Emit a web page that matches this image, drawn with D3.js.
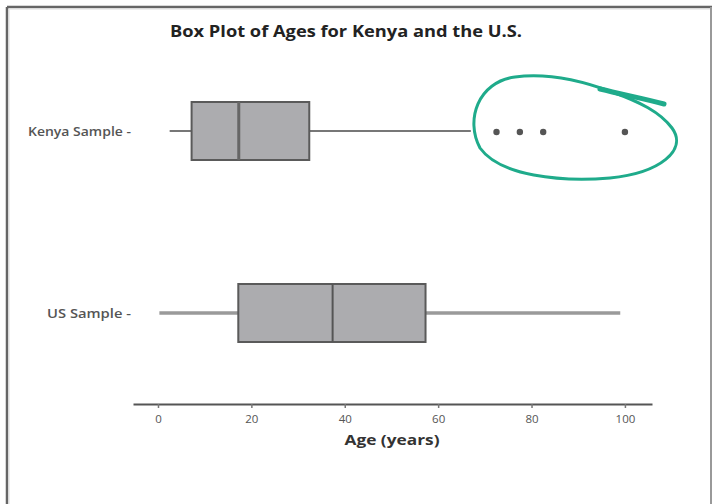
<!DOCTYPE html>
<html>
<head>
<meta charset="utf-8">
<script src="https://cdn.jsdelivr.net/npm/d3@7"></script>
<style>
  body { margin: 0; background: #fff; }
  text { font-family: "Open Sans", "DejaVu Sans", sans-serif; }
</style>
</head>
<body>
<div id="chart"></div>
<script>
// box plot summary
const groups = ["Kenya Sample", "US Sample"];
const whiskerLow = [2.5, 0.3];
const q1 = [7.2, 17.2];
const median = [17.3, 37.4];
const q3 = [32.4, 57.3];
const whiskerHigh = [67, 99];
const kenyaOutliers = [72.5, 77.5, 82.5, 100];
const xTicks = [0, 20, 40, 60, 80, 100];

const width = 713, height = 504;

let svg = d3.select('#chart')
    .append('svg')
    .attr('width', width)
    .attr('height', height);

// frame round the screenshot
svg.append('line').attr('x1', 7).attr('y1', 7).attr('x2', 7).attr('y2', height)
    .attr('stroke', '#666').attr('stroke-width', 2.5);
svg.append('line').attr('x1', 7).attr('y1', 7).attr('x2', 712).attr('y2', 7)
    .attr('stroke', '#666').attr('stroke-width', 2.5);
svg.append('line').attr('x1', 9).attr('y1', 9).attr('x2', 9).attr('y2', height)
    .attr('stroke', '#ddd').attr('stroke-width', 1);
svg.append('line').attr('x1', 9).attr('y1', 9).attr('x2', 711).attr('y2', 9)
    .attr('stroke', '#ddd').attr('stroke-width', 1);
svg.append('line').attr('x1', 711).attr('y1', 7).attr('x2', 711).attr('y2', height)
    .attr('stroke', '#999').attr('stroke-width', 2);

// x axis spans a bit past 0 and 100
var x = d3.scaleLinear()
    .domain([-5.35, 105.8])
    .range([133, 652]);

var y = d3.scalePoint()
    .domain(groups)
    .range([131, 313]);

const boxH = 60;

// title
svg.append('text')
    .attr('x', 346).attr('y', 37)
    .attr('text-anchor', 'middle')
    .attr('font-size', 16).attr('font-weight', 'bold')
    .attr('fill', '#222')
    .attr('textLength', 352)
    .attr('lengthAdjust', 'spacingAndGlyphs')
    .text('Box Plot of Ages for Kenya and the U.S.');

// x axis
let xAxis = svg.append('g')
    .attr('transform', 'translate(0,404)')
    .call(d3.axisBottom(x).tickValues(xTicks).tickSize(4).tickSizeOuter(0));
xAxis.select('.domain').attr('stroke', '#555').attr('stroke-width', 2);
xAxis.selectAll('.tick line').attr('stroke', '#777').attr('stroke-width', 1.5);
xAxis.selectAll('.tick text')
    .attr('font-family', '"Open Sans", sans-serif')
    .attr('font-size', 11.5).attr('fill', '#555').attr('dy', '1.05em');

svg.append('text')
    .attr('x', 392).attr('y', 445)
    .attr('text-anchor', 'middle')
    .attr('font-size', 14).attr('font-weight', 'bold')
    .attr('fill', '#333')
    .attr('textLength', 95)
    .attr('lengthAdjust', 'spacingAndGlyphs')
    .text('Age (years)');

// y labels
const labelWidth = [103, 84];
svg.selectAll('.ylabel')
    .data(groups)
    .enter()
    .append('text')
    .attr('class', 'ylabel')
    .attr('x', 131)
    .attr('y', d => y(d) + 4.5)
    .attr('text-anchor', 'end')
    .attr('font-size', 12.5).attr('font-weight', 600).attr('fill', '#555')
    .attr('textLength', (d, i) => labelWidth[i])
    .attr('lengthAdjust', 'spacingAndGlyphs')
    .text(d => d + ' -');

// whiskers
svg.selectAll('.whisker')
    .data(groups)
    .enter()
    .append('line')
    .attr('x1', (d, i) => x(whiskerLow[i]))
    .attr('x2', (d, i) => x(whiskerHigh[i]))
    .attr('y1', d => y(d))
    .attr('y2', d => y(d))
    .attr('stroke', (d, i) => i == 0 ? '#777' : '#9a9a9a')
    .attr('stroke-width', (d, i) => i == 0 ? 1.8 : 3.5);

// boxes
svg.selectAll('.box')
    .data(groups)
    .enter()
    .append('rect')
    .attr('x', (d, i) => x(q1[i]))
    .attr('y', d => y(d) - boxH / 2 + 1)
    .attr('width', (d, i) => x(q3[i]) - x(q1[i]))
    .attr('height', boxH - 2)
    .attr('fill', '#acacaf')
    .attr('stroke', '#5a5a5a')
    .attr('stroke-width', 2);

// medians
svg.selectAll('.median')
    .data(groups)
    .enter()
    .append('line')
    .attr('x1', (d, i) => x(median[i]))
    .attr('x2', (d, i) => x(median[i]))
    .attr('y1', d => y(d) - boxH / 2 + 1)
    .attr('y2', d => y(d) + boxH / 2 - 1)
    .attr('stroke', (d, i) => i == 0 ? '#666' : '#555')
    .attr('stroke-width', (d, i) => i == 0 ? 3 : 2);

// outliers
svg.selectAll('.outlier')
    .data(kenyaOutliers)
    .enter()
    .append('circle')
    .attr('cx', d => x(d))
    .attr('cy', y('Kenya Sample') + 1)
    .attr('r', 3.2)
    .attr('fill', '#555');

// hand drawn green circle round the outliers
svg.append('path')
    .attr('d', 'M 612,92 C 580,80 545,73 515,77 C 478,82 465,120 480,148 C 500,176 560,182 610,178 C 660,173 688,150 672,128 C 660,112 640,102 612,92')
    .attr('fill', 'none')
    .attr('stroke', '#1fab8b')
    .attr('stroke-width', 3)
    .attr('stroke-linecap', 'round');
svg.append('path')
    .attr('d', 'M 600,89 C 625,95 645,99 664,104')
    .attr('fill', 'none')
    .attr('stroke', '#1fab8b')
    .attr('stroke-width', 5)
    .attr('stroke-linecap', 'round');
</script>
</body>
</html>
